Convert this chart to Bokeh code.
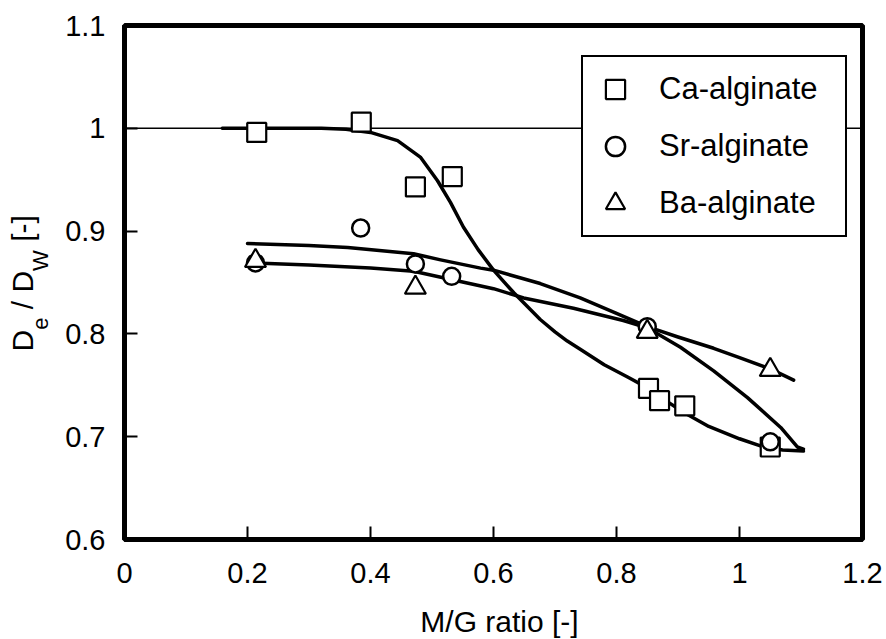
from bokeh.plotting import figure
from bokeh.models import (Range1d, FixedTicker, CustomJSTickFormatter, BoxAnnotation,
                          Legend, LegendItem, Label)
from bokeh.embed import file_html
from bokeh.resources import INLINE

# ---------------- data ----------------
ca_x = [0.215, 0.385, 0.473, 0.533, 0.852, 0.870, 0.911, 1.050]
ca_y = [0.996, 1.006, 0.943, 0.953, 0.747, 0.735, 0.730, 0.690]

sr_x = [0.213, 0.384, 0.473, 0.532, 0.850, 1.050]
sr_y = [0.869, 0.903, 0.868, 0.856, 0.807, 0.695]

ba_x = [0.213, 0.473, 0.850, 1.050]
ba_y = [0.871, 0.845, 0.802, 0.765]

# fitted curves
ca_fit_x = [0.159, 0.25, 0.32, 0.36, 0.40, 0.444, 0.481, 0.509, 0.530, 0.551,
            0.575, 0.600, 0.633, 0.676, 0.700, 0.720, 0.741, 0.780, 0.818, 0.852,
            0.870, 0.911, 0.95, 1.0, 1.034, 1.07, 1.104]
ca_fit_y = [1.000, 1.000, 1.000, 0.999, 0.996, 0.988, 0.972, 0.949, 0.928, 0.904,
            0.882, 0.862, 0.840, 0.814, 0.802, 0.793, 0.785, 0.770, 0.758, 0.747,
            0.739, 0.723, 0.710, 0.698, 0.691, 0.687, 0.686]

sr_fit_x = [0.212, 0.30, 0.40, 0.470, 0.546, 0.600, 0.649, 0.730, 0.811, 0.850,
            0.904, 0.958, 1.013, 1.067, 1.094, 1.104]
sr_fit_y = [0.869, 0.867, 0.864, 0.861, 0.851, 0.844, 0.835, 0.825, 0.813, 0.806,
            0.787, 0.764, 0.738, 0.709, 0.690, 0.688]

ba_fit_x = [0.200, 0.30, 0.363, 0.470, 0.514, 0.579, 0.600, 0.676, 0.741, 0.800,
            0.850, 0.900, 0.958, 1.000, 1.050, 1.088]
ba_fit_y = [0.888, 0.886, 0.884, 0.878, 0.872, 0.864, 0.862, 0.849, 0.835, 0.820,
            0.807, 0.797, 0.786, 0.777, 0.766, 0.755]

ref_level = 1.0

x_ticks = [0, 0.2, 0.4, 0.6, 0.8, 1.0, 1.2]
x_tick_labels = ["0", "0.2", "0.4", "0.6", "0.8", "1", "1.2"]
y_ticks = [0.6, 0.7, 0.8, 0.9, 1.0, 1.1]
y_tick_labels = ["0.6", "0.7", "0.8", "0.9", "1", "1.1"]

series_names = ["Ca-alginate", "Sr-alginate", "Ba-alginate"]
x_title = "M/G ratio [-]"
# y title pieces: (text, is_subscript)
y_title_parts = [("D", False), ("e", True), (" / D", False), ("W", True), (" [-]", False)]

# ---------------- layout geometry ----------------
W, H = 886, 639
FL, FR, FT, FB = 124, 862, 25, 539          # pixel box of the plotted area
X0, X1, Y0, Y1 = 0, 1.2, 0.6, 1.1           # axis limits
sx = (FR - FL) / (X1 - X0)
sy = (FB - FT) / (Y1 - Y0)
xr = Range1d(X0 - FL / sx, X1 + (W - FR) / sx)
yr = Range1d(Y0 - (H - FB) / sy, Y1 + FT / sy)

def px2x(px):
    return xr.start + px / sx

def px2y(py):
    return yr.end - py / sy

FONT = "Liberation Sans"
p = figure(width=W, height=H, x_range=xr, y_range=yr,
           output_backend="svg", toolbar_location=None,
           min_border=0, min_border_left=0, min_border_right=0,
           min_border_top=0, min_border_bottom=0)
p.background_fill_color = "white"
p.border_fill_color = "white"
p.outline_line_color = None
p.grid.visible = False

fmt_code = """
const i = tv.findIndex(t => Math.abs(t - tick) < 1e-9);
return i >= 0 ? tl[i] : '';
"""
p.xaxis.ticker = FixedTicker(ticks=x_ticks)
p.xaxis.formatter = CustomJSTickFormatter(args=dict(tv=x_ticks, tl=x_tick_labels), code=fmt_code)
p.yaxis.ticker = FixedTicker(ticks=y_ticks)
p.yaxis.formatter = CustomJSTickFormatter(args=dict(tv=y_ticks, tl=y_tick_labels), code=fmt_code)
p.xaxis.fixed_location = Y0
p.yaxis.fixed_location = X0
p.xaxis.bounds = (X0, X1)
p.yaxis.bounds = (Y0, Y1)

for ax in (p.xaxis, p.yaxis):
    ax.axis_line_color = "black"
    ax.axis_line_width = 5
    ax.major_tick_in = 13
    ax.major_tick_out = 0
    ax.major_tick_line_width = 2
    ax.major_tick_line_color = "black"
    ax.minor_tick_line_color = None
    ax.major_label_text_font = FONT
    ax.major_label_text_font_size = "29px"
    ax.major_label_text_color = "black"

p.xaxis.major_label_standoff = 23
p.yaxis.major_label_standoff = 19

# plot box
p.add_layout(BoxAnnotation(left=X0, right=X1, bottom=Y0, top=Y1,
                           fill_alpha=0, line_color="black", line_alpha=1,
                           line_width=5, line_dash="solid", level="overlay"))

# reference line at 1 (thin, across the whole box)
p.line([X0, X1], [ref_level, ref_level], line_color="black", line_width=1.5)

# fitted curves
for fx, fy in ((ca_fit_x, ca_fit_y), (sr_fit_x, sr_fit_y), (ba_fit_x, ba_fit_y)):
    p.line(fx, fy, line_color="black", line_width=3.5, line_join="round", line_cap="round")

# markers
r_ca = p.scatter(ca_x, ca_y, marker="square", size=19, fill_color="white",
                 line_color="black", line_width=2.2)
r_sr = p.scatter(sr_x, sr_y, marker="circle", size=17, fill_color="white",
                 line_color="black", line_width=2.5)
r_ba = p.scatter(ba_x, ba_y, marker="triangle", size=21, fill_color="white",
                 line_color="black", line_width=2.2)

legend = Legend(items=[LegendItem(label=series_names[0], renderers=[r_ca]),
                       LegendItem(label=series_names[1], renderers=[r_sr]),
                       LegendItem(label=series_names[2], renderers=[r_ba])],
                location=(581, H - 237))
legend.border_line_color = "black"
legend.border_line_alpha = 1
legend.border_line_width = 2
legend.background_fill_color = "white"
legend.background_fill_alpha = 1
legend.label_text_font = FONT
legend.label_text_font_size = "31px"
legend.label_text_color = "black"
legend.glyph_width = 48
legend.glyph_height = 48
legend.padding = 8
legend.spacing = 9
legend.label_standoff = 20
legend.label_width = 178
legend.margin = 0
p.add_layout(legend)

# x-axis title (anchor chosen so the caps sit where the reference has them)
p.add_layout(Label(x=px2x(499), y=px2y(621), text=x_title,
                   text_font=FONT, text_font_size="30px", text_color="black",
                   text_align="center", text_baseline="alphabetic"))

# y-axis title with subscripts (rotated, built from text pieces)
char_w = {"D": 0.722, "e": 0.556, " ": 0.278, "/": 0.278, "W": 0.944,
          "[": 0.278, "-": 0.333, "]": 0.278}
main_size, sub_size = 30, 22
pos = 351.0   # pixel row where the title starts (it reads upwards)
for txt, sub in y_title_parts:
    fs = sub_size if sub else main_size
    lead = len(txt) - len(txt.lstrip())
    pos -= lead * char_w[" "] * fs
    body = txt.strip()
    p.add_layout(Label(x=px2x(40 if sub else 22), y=px2y(pos),
                       text=body, angle=90, angle_units="deg",
                       text_font=FONT, text_font_size=f"{fs}px", text_color="black",
                       text_align="left", text_baseline="alphabetic"))
    pos -= sum(char_w.get(c, 0.5) for c in body) * fs

open("out.html", "w").write(file_html(p, INLINE))
